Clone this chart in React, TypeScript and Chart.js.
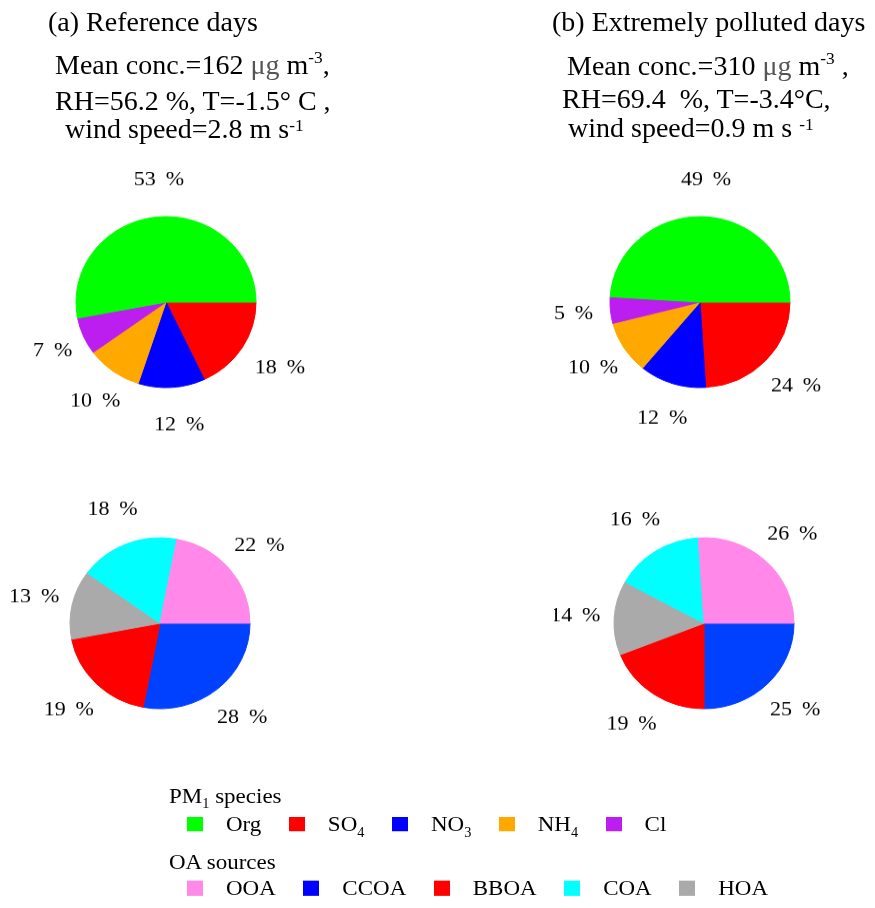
import React, { useEffect, useRef } from "react";
import { Chart, registerables } from "chart.js";

Chart.register(...registerables);

// ---------- data ----------
const speciesNames = ["Org", "SO4", "NO3", "NH4", "Cl"];
const speciesColors = ["#00FF00", "#FF0000", "#0000FF", "#FFA800", "#BB1EEE"];
const speciesReference = [53, 18, 12, 10, 7];
const speciesPolluted = [49, 24, 12, 10, 5];
// slice order, clockwise from 3 o'clock
const speciesDrawOrder = ["SO4", "NO3", "NH4", "Cl", "Org"];

const oaNames = ["OOA", "CCOA", "BBOA", "COA", "HOA"];
const oaPieColors = ["#FF88E8", "#0040FF", "#FF0000", "#00FFFF", "#AAAAAA"];
const oaLegendColors = ["#FF88E8", "#0000FF", "#FF0000", "#00FFFF", "#AAAAAA"];
const oaReference = [22, 28, 19, 18, 13];
const oaPolluted = [26, 25, 19, 16, 14];
const oaDrawOrder = ["CCOA", "BBOA", "HOA", "COA", "OOA"];

const FONT = '"Liberation Serif", "Times New Roman", serif';
const SQUISH = 0.95;

const outerLabelPlugin = {
  id: "outerLabels",
  afterDatasetsDraw(chart: any) {
    const ctx = chart.ctx;
    const meta = chart.getDatasetMeta(0);
    const values = chart.data.datasets[0].data;
    const dx = chart.options.plugins.outerLabels?.dx ?? 0;
    ctx.save();
    ctx.font = `22px ${FONT}`;
    ctx.fillStyle = "#000";
    ctx.textAlign = "center";
    ctx.textBaseline = "middle";
    meta.data.forEach((arc: any, i: number) => {
      const p = arc.getProps(["x", "y", "startAngle", "endAngle", "outerRadius"], true);
      const mid = (p.startAngle + p.endAngle) / 2;
      const d = p.outerRadius + 39;
      ctx.fillText(`${values[i]}\u2009 %`, p.x + dx + Math.cos(mid) * d, p.y + Math.sin(mid) * d);
    });
    ctx.restore();
  },
};

function PieChart(props: {
  names: string[];
  values: number[];
  colors: string[];
  order: string[];
  left: number;
  top: number;
  labelDx?: number;
}) {
  const ref = useRef<HTMLCanvasElement>(null);
  useEffect(() => {
    const idx = props.order.map((n) => props.names.indexOf(n));
    const cols = idx.map((i) => props.colors[i]);
    const chart = new Chart(ref.current as HTMLCanvasElement, {
      type: "pie",
      data: {
        labels: idx.map((i) => props.names[i]),
        datasets: [
          {
            data: idx.map((i) => props.values[i]),
            backgroundColor: cols,
            borderColor: cols,
            borderWidth: 1,
            hoverOffset: 0,
          },
        ],
      },
      options: {
        responsive: false,
        animation: false,
        rotation: 90,
        events: [],
        layout: { padding: 59.5 },
        plugins: {
          legend: { display: false },
          tooltip: { enabled: false },
          outerLabels: { dx: props.labelDx ?? 0 },
        },
      } as any,
      plugins: [outerLabelPlugin],
    });
    return () => chart.destroy();
  }, []);
  return (
    <canvas
      ref={ref}
      width={300}
      height={300}
      style={{ position: "absolute", left: props.left, top: props.top, width: 300, height: 300 }}
    />
  );
}

function Line(props: { left: number; baseline: number; size: number; children: any }) {
  return (
    <div
      style={{
        position: "absolute",
        left: props.left,
        top: props.baseline - 0.8375 * props.size,
        fontSize: props.size,
        lineHeight: `${props.size}px`,
        whiteSpace: "pre",
      }}
    >
      {props.children}
    </div>
  );
}

function Sup(props: { raise: number; children: any }) {
  return (
    <span style={{ fontSize: "0.62em", position: "relative", top: -props.raise }}>{props.children}</span>
  );
}

function Sub(props: { children: any }) {
  return <span style={{ fontSize: "0.62em", position: "relative", top: 6 }}>{props.children}</span>;
}

const Mu = () => <span style={{ color: "#555" }}>μg</span>;

function withSub(name: string) {
  const m = name.match(/^([A-Za-z]+?)(\d+)$/);
  if (!m) return name;
  return (
    <>
      {m[1]}
      <Sub>{m[2]}</Sub>
    </>
  );
}

function LegendRow(props: { top: number; names: string[]; colors: string[]; boxTop: number; boxH: number }) {
  return (
    <div
      style={{
        position: "absolute",
        left: 187,
        top: props.top,
        display: "flex",
        alignItems: "flex-start",
        fontSize: 23,
        lineHeight: "23px",
        whiteSpace: "pre",
      }}
    >
      {props.names.map((n, i) => (
        <React.Fragment key={n}>
          <span
            style={{
              display: "inline-block",
              width: 16,
              height: props.boxH,
              marginTop: props.boxTop,
              background: props.colors[i],
              marginRight: 23,
            }}
          />
          <span style={{ marginRight: 27.5 }}>{withSub(n)}</span>
        </React.Fragment>
      ))}
    </div>
  );
}

export default function App() {
  return (
    <div
      style={{
        position: "absolute",
        left: 0,
        top: 0,
        width: 875,
        height: 908,
        overflow: "hidden",
        background: "#fff",
      }}
    >
      <div
        style={{
          position: "absolute",
          left: 0,
          top: 0,
          width: 875,
          height: 908 / SQUISH,
          transform: `scaleY(${SQUISH})`,
          transformOrigin: "0 0",
          fontFamily: FONT,
          color: "#000",
        }}
      >
        {/* headers, left */}
        <Line left={48} baseline={33} size={28}>(a) Reference days</Line>
        <Line left={55} baseline={78} size={28}>
          Mean conc.=162 <Mu /> m<Sup raise={12}>-3</Sup>,
        </Line>
        <Line left={55} baseline={116} size={28}>RH=56.2 %, T=-1.5° C ,</Line>
        <Line left={65} baseline={145} size={28}>
          wind speed=2.8 m s<Sup raise={7}>-1</Sup>
        </Line>

        {/* headers, right */}
        <Line left={552} baseline={33} size={28}>(b) Extremely polluted days</Line>
        <Line left={567} baseline={79} size={28}>
          Mean conc.=310 <Mu /> m<Sup raise={12}>-3</Sup> ,
        </Line>
        <Line left={562} baseline={114} size={28}>RH=69.4  %, T=-3.4°C,</Line>
        <Line left={568} baseline={144} size={28}>
          wind speed=0.9 m s <Sup raise={7}>-1</Sup>
        </Line>

        <PieChart names={speciesNames} values={speciesReference} colors={speciesColors} order={speciesDrawOrder} left={15.5} top={168.4} labelDx={5} />
        <PieChart names={speciesNames} values={speciesPolluted} colors={speciesColors} order={speciesDrawOrder} left={550} top={168.4} labelDx={2} />
        <PieChart names={oaNames} values={oaReference} colors={oaPieColors} order={oaDrawOrder} left={9.5} top={506.3} />
        <PieChart names={oaNames} values={oaPolluted} colors={oaPieColors} order={oaDrawOrder} left={554} top={505.8} />

        {/* legend */}
        <Line left={169} baseline={845} size={23}>
          PM<Sub>1</Sub> species
        </Line>
        <LegendRow top={875 - 0.8375 * 23} names={speciesNames} colors={speciesColors} boxTop={860.3 - (875 - 0.8375 * 23)} boxH={15} />
        <Line left={169} baseline={915} size={23}>OA sources</Line>
        <LegendRow top={942 - 0.8375 * 23} names={oaNames} colors={oaLegendColors} boxTop={927 - (942 - 0.8375 * 23)} boxH={16} />
      </div>
    </div>
  );
}
